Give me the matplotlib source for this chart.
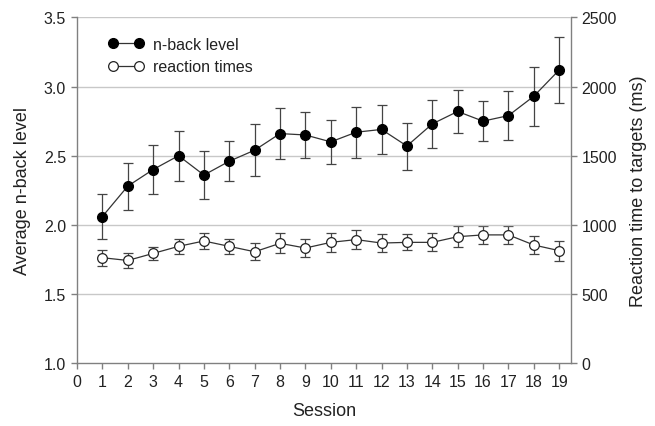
import matplotlib
matplotlib.use("Agg")
import matplotlib.pyplot as plt
from matplotlib.lines import Line2D

plt.rcParams['font.family'] = ['Liberation Sans', 'DejaVu Sans']

sessions = list(range(1, 20))
nback_mean = [2.06, 2.28, 2.40, 2.50, 2.36, 2.46, 2.54, 2.66, 2.65, 2.60,
              2.67, 2.69, 2.57, 2.73, 2.82, 2.75, 2.79, 2.93, 3.12]
nback_err = [0.16, 0.17, 0.18, 0.18, 0.175, 0.145, 0.19, 0.185, 0.165, 0.16,
             0.185, 0.175, 0.17, 0.176, 0.153, 0.147, 0.18, 0.215, 0.24]
rt_mean = [762, 742, 793, 844, 883, 844, 805, 866, 832, 873,
           893, 868, 873, 873, 914, 927, 927, 854, 813]
rt_err = [58, 57, 50, 53, 59, 53, 62, 72, 63, 70,
          70, 63, 57, 65, 74, 67, 67, 68, 73]

GRID = '#c8c8c8'
SPINE = '#808080'
LINE = '#333333'
TXT = '#222222'

fig = plt.figure(figsize=(6.55, 4.27), dpi=100)
ax = fig.add_axes([0.1176, 0.1475, 0.7535, 0.8092])
ax2 = ax.twinx()

for y in [1.5, 2.0, 2.5, 3.0, 3.5]:
    ax.axhline(y, color=GRID, lw=1.0, zorder=0)

ax2.errorbar(sessions, rt_mean, yerr=rt_err, color=LINE, lw=0.9,
             ecolor='#444444', elinewidth=0.9, capsize=3.6, capthick=0.9,
             marker='o', markersize=7, markerfacecolor='white',
             markeredgecolor='#222222', markeredgewidth=0.9, zorder=3)
ax.errorbar(sessions, nback_mean, yerr=nback_err, color=LINE, lw=0.9,
            ecolor='#444444', elinewidth=0.9, capsize=3.6, capthick=0.9,
            marker='o', markersize=7, markerfacecolor='black',
            markeredgecolor='black', zorder=3)

ax.set_xlim(0, 19.45)
ax.set_ylim(1.0, 3.5)
ax2.set_ylim(0, 2500)
ax.set_xticks(range(0, 20))
ax.set_yticks([1.0, 1.5, 2.0, 2.5, 3.0, 3.5])
ax.set_yticklabels(['1.0', '1.5', '2.0', '2.5', '3.0', '3.5'])
ax2.set_yticks([0, 500, 1000, 1500, 2000, 2500])

for a in (ax, ax2):
    a.spines['top'].set_visible(False)
    for s in a.spines.values():
        s.set_color(SPINE)
        s.set_linewidth(1.0)
    a.tick_params(direction='out', length=4, width=1.0, color=SPINE,
                  labelsize=11.5, labelcolor=TXT, pad=4)
ax.spines['right'].set_visible(False)
ax2.spines['left'].set_visible(False)
ax2.spines['bottom'].set_visible(False)
ax.set_zorder(ax2.get_zorder() + 1)
ax.patch.set_visible(False)

ax.set_xlabel('Session', fontsize=13, color=TXT, labelpad=9)
ax.set_ylabel('Average n-back level', fontsize=13, color=TXT, labelpad=9)
ax2.set_ylabel('Reaction time to targets (ms)', fontsize=13, color=TXT, labelpad=9)

handles = [
    Line2D([], [], color=LINE, lw=0.9, marker='o', markersize=7,
           markerfacecolor='black', markeredgecolor='black'),
    Line2D([], [], color=LINE, lw=0.9, marker='o', markersize=7,
           markerfacecolor='white', markeredgecolor='#222222', markeredgewidth=0.9),
]
leg = ax.legend(handles, ['n-back level', 'reaction times'], loc='upper left',
                frameon=False, numpoints=2, fontsize=11.5, handlelength=2.2,
                bbox_to_anchor=(0.035, 0.985), labelspacing=0.45, handletextpad=0.6)
for t in leg.get_texts():
    t.set_color(TXT)

fig.savefig('out.png', dpi=100)
